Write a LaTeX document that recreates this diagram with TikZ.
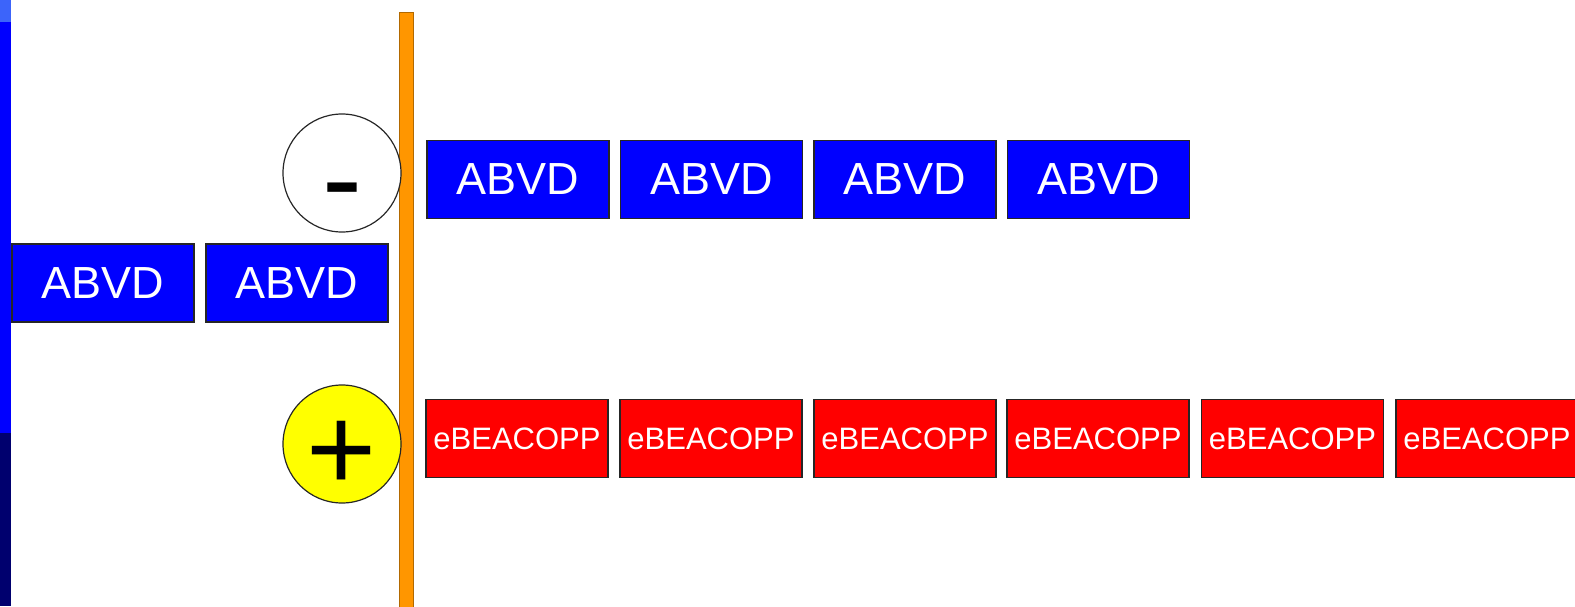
\documentclass[tikz,border=0pt]{standalone}
\usepackage{fontspec}
\setmainfont{Liberation Sans}
\definecolor{stripblue}{RGB}{0,0,255}
\definecolor{striplight}{RGB}{60,100,250}
\definecolor{stripnavy}{RGB}{0,0,110}
\definecolor{barorange}{RGB}{255,150,0}
\definecolor{regblue}{RGB}{0,0,255}
\definecolor{regred}{RGB}{255,0,0}
\definecolor{signyellow}{RGB}{255,255,0}
\tikzset{
  regimen/.style={rectangle, minimum width=182pt, minimum height=78pt, inner sep=0pt,
    draw=black!85, line width=1.3pt, text=white},
  abvd/.style={regimen, fill=regblue, font=\fontsize{45}{50}\selectfont},
  beacopp/.style={regimen, fill=regred, font=\fontsize{31}{36}\selectfont},
  sign/.style={circle, draw=black!85, line width=1.2pt, minimum size=118pt, inner sep=0pt},
  signtext/.style={anchor=base, inner sep=0pt, font=\fontsize{120}{130}\selectfont}
}
\begin{document}
\begin{tikzpicture}[x=1pt, y=-1pt]
\useasboundingbox (0,0) rectangle (1575,606);
\clip (0,0) rectangle (1575,606);
% side strip
\fill[striplight] (0,0) rectangle (11,22);
\fill[stripblue] (0,22) rectangle (11,433);
\fill[stripnavy] (0,433) rectangle (11,606);
% divider
\draw[fill=barorange, draw=barorange!70!black, line width=0.8pt] (399,12) rectangle (413,612);
% signs
\node[sign, fill=white] (minus) at (342,173) {};
\node[sign, fill=signyellow] (plus) at (342,444) {};
\node[signtext] (minustxt) at (342,219) {-};
\node[signtext] (plustxt) at (342,490) {+};
% regimen before the split
\node[abvd] (l1) at (103,283) {ABVD};
\node[abvd] (l2) at (297,283) {ABVD};
% negative branch
\node[abvd] (a1) at (518,179.5) {ABVD};
\node[abvd] (a2) at (711.5,179.5) {ABVD};
\node[abvd] (a3) at (905,179.5) {ABVD};
\node[abvd] (a4) at (1098.5,179.5) {ABVD};
% positive branch
\node[beacopp] (b1) at (517,438.5) {eBEACOPP};
\node[beacopp] (b2) at (711,438.5) {eBEACOPP};
\node[beacopp] (b3) at (905,438.5) {eBEACOPP};
\node[beacopp] (b4) at (1098,438.5) {eBEACOPP};
\node[beacopp] (b5) at (1292.5,438.5) {eBEACOPP};
\node[beacopp] (b6) at (1487,438.5) {eBEACOPP};
\end{tikzpicture}
\end{document}
